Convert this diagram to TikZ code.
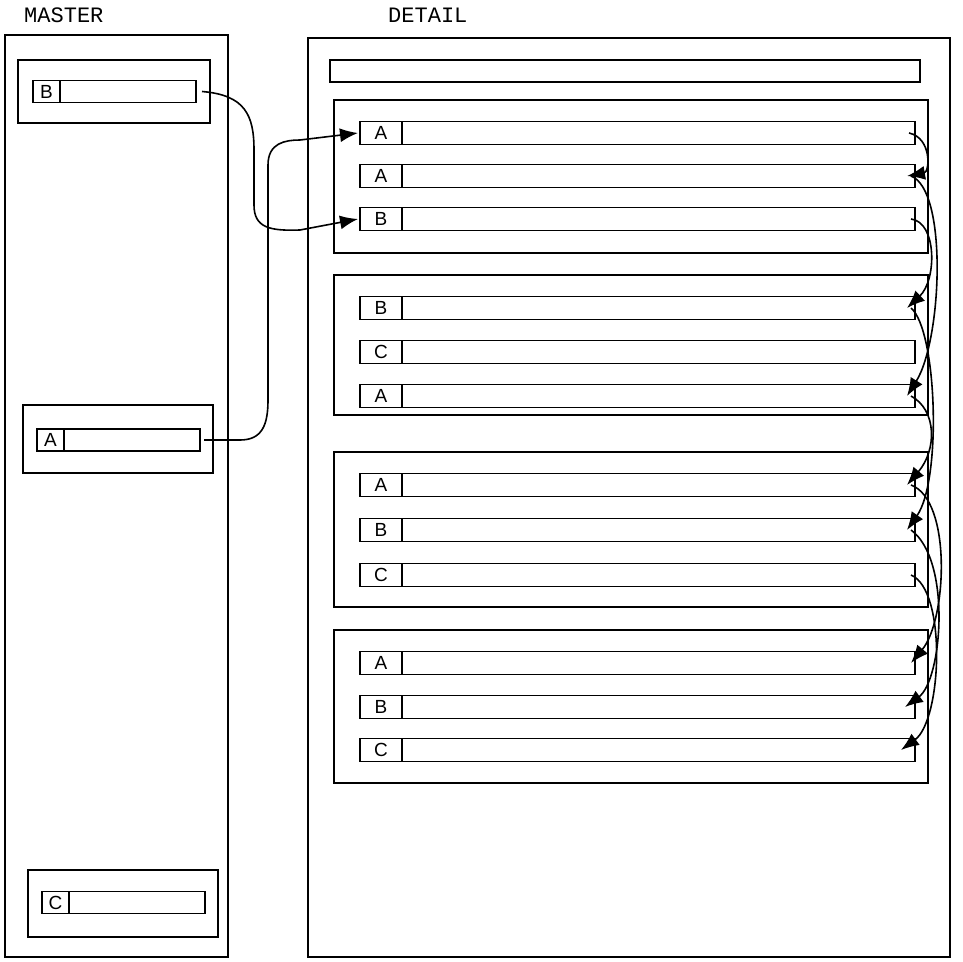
\documentclass[tikz,border=0pt]{standalone}
\usepackage{fontspec}
\setmainfont{Liberation Sans}
\newfontfamily\titlefont{Liberation Mono}
\usetikzlibrary{arrows.meta}
\tikzset{
  ln/.style={line width=1.6pt},
  frame/.style={draw, ln, rectangle, inner sep=0pt, outer sep=0pt, anchor=north west},
  keyb/.style={draw, ln, rectangle, inner sep=0pt, outer sep=0pt, minimum width=42, minimum height=23, font=\fontsize{19}{19}\selectfont},
  fieldb/.style={draw, ln, rectangle, inner sep=0pt, outer sep=0pt, minimum width=513, minimum height=23},
  mkey/.style={draw, ln, rectangle, inner sep=0pt, outer sep=0pt, minimum width=27, minimum height=22, font=\fontsize{19}{19}\selectfont},
  mfield/.style={draw, ln, rectangle, inner sep=0pt, outer sep=0pt, minimum width=136, minimum height=22},
  conn/.style={ln, -{Latex[length=18pt,width=14pt]}},
  title/.style={font=\titlefont\fontsize{22}{22}\selectfont, anchor=base west, inner sep=0pt}
}
\newcommand\drow[3]{%
  \node[keyb, anchor=west] (#1k) at (360,#2) {#3};
  \node[fieldb, anchor=west] (#1f) at (#1k.east) {};}
\begin{document}
\begin{tikzpicture}[x=1pt,y=-1pt]
\useasboundingbox (0,0) rectangle (963,961);
% titles
\node[title] (tmaster) at (24,22) {MASTER};
\node[title] (tdetail) at (388,22) {DETAIL};
% master
\node[frame, minimum width=223, minimum height=922] (master) at (5,35) {};
\node[frame, minimum width=192, minimum height=63] (mBbox) at (18,60) {};
\node[mkey, anchor=west] (mBk) at (33,91.5) {B};
\node[mfield, anchor=west] (mBf) at (mBk.east) {};
\node[frame, minimum width=190, minimum height=68] (mAbox) at (23,405) {};
\node[mkey, anchor=west] (mAk) at (37,440) {A};
\node[mfield, anchor=west] (mAf) at (mAk.east) {};
\node[frame, minimum width=190, minimum height=67] (mCbox) at (28,870) {};
\node[mkey, anchor=west] (mCk) at (42,902.5) {C};
\node[mfield, anchor=west] (mCf) at (mCk.east) {};
% detail
\node[frame, minimum width=642, minimum height=919] (detail) at (308,38) {};
\node[frame, minimum width=590, minimum height=22] (topbar) at (330,60) {};
\node[frame, minimum width=594, minimum height=153] (g1) at (334,100) {};
\node[frame, minimum width=594, minimum height=140] (g2) at (334,275) {};
\node[frame, minimum width=594, minimum height=155] (g3) at (334,452) {};
\node[frame, minimum width=594, minimum height=153] (g4) at (334,630) {};
\drow{a1}{133}{A}
\drow{a2}{176}{A}
\drow{a3}{219}{B}
\drow{b1}{308}{B}
\drow{b2}{352}{C}
\drow{b3}{396}{A}
\drow{c1}{485}{A}
\drow{c2}{530}{B}
\drow{c3}{575}{C}
\drow{d1}{663}{A}
\drow{d2}{707}{B}
\drow{d3}{750}{C}
% master -> detail
\draw[conn] ([xshift=6pt]mBf.east) .. controls (245,95) and (254,115) .. (254,150)
  -- (254,205) .. controls (254,228) and (270,231) .. (300,230)
  -- ([xshift=-2pt]a3k.west);
\draw[conn] ([xshift=4pt]mAf.east) -- (240,440) .. controls (262,440) and (268,425) .. (268,400)
  -- (268,165) .. controls (268,143) and (285,140) .. (300,140)
  -- ([xshift=-2pt]a1k.west);
% detail chain
\draw[conn] ([xshift=-6pt]a1f.east) .. controls (932,138) and (930,172) .. ([xshift=-8pt]a2f.east);
\draw[conn] ([xshift=-4pt]a2f.east) .. controls (948,190) and (942,340) .. ([xshift=-8pt]b3f.east);
\draw[conn] ([xshift=-4pt]a3f.east) .. controls (937,222) and (937,280) .. ([xshift=-8pt]b1f.east);
\draw[conn] ([xshift=-4pt]b3f.east) .. controls (937,410) and (937,450) .. ([xshift=-8pt]c1f.east);
\draw[conn] ([xshift=-4pt]b1f.east) .. controls (937,330) and (942,480) .. ([xshift=-8pt]c2f.east);
\draw[conn] ([xshift=-4pt]c1f.east) .. controls (952,500) and (947,620) .. ([xshift=-4pt]d1f.east);
\draw[conn] ([xshift=-4pt]c2f.east) .. controls (952,560) and (942,680) .. ([xshift=-10pt]d2f.east);
\draw[conn] ([xshift=-4pt]c3f.east) .. controls (947,590) and (942,720) .. ([xshift=-14pt]d3f.east);
\end{tikzpicture}
\end{document}
